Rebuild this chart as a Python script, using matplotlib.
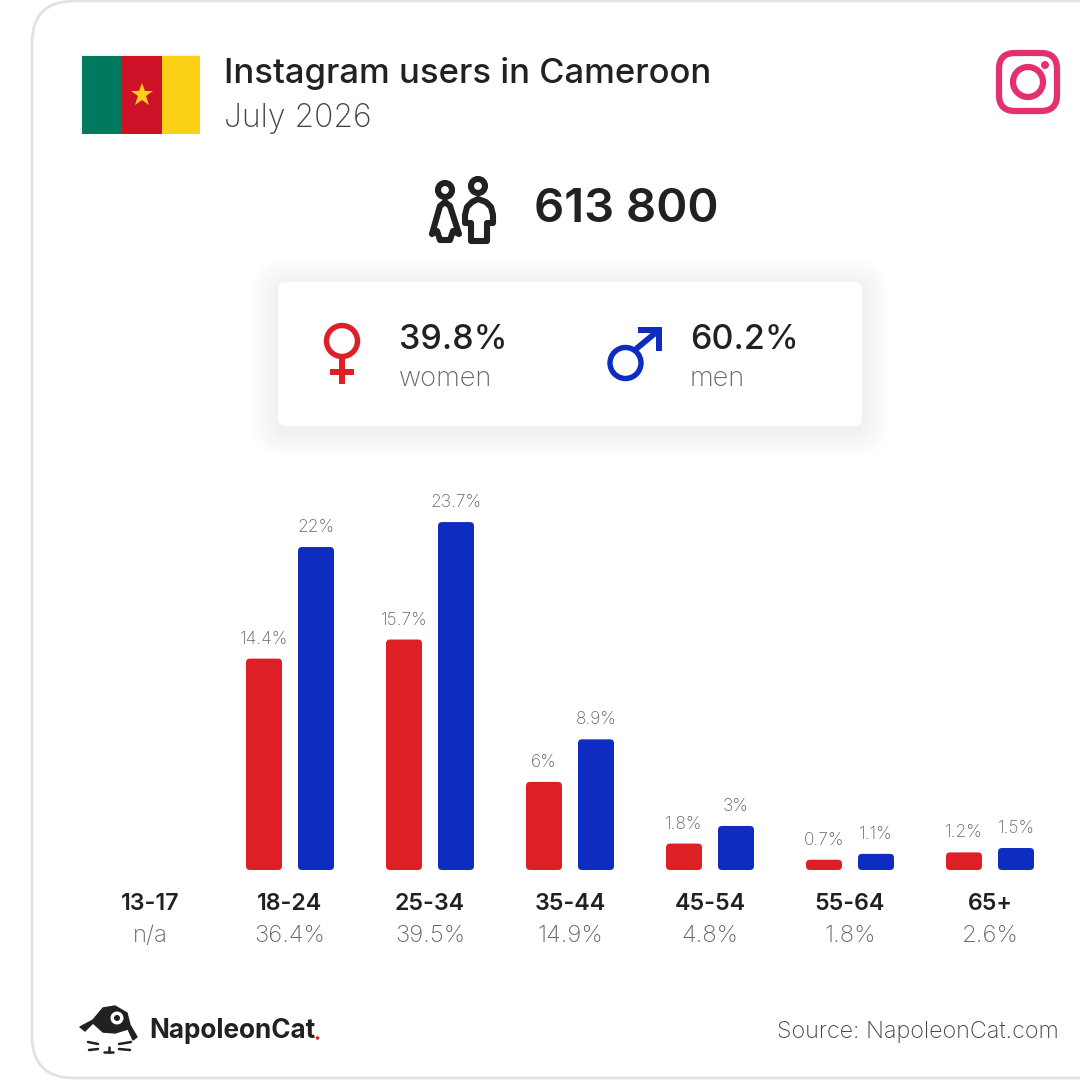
import matplotlib
matplotlib.use("Agg")
import matplotlib.pyplot as plt
from matplotlib.patches import FancyBboxPatch, Rectangle, Circle, Polygon

age_groups = ["13-17", "18-24", "25-34", "35-44", "45-54", "55-64", "65+"]
group_totals = ["n/a", "36.4%", "39.5%", "14.9%", "4.8%", "1.8%", "2.6%"]
women = [None, 14.4, 15.7, 6, 1.8, 0.7, 1.2]
men = [None, 22, 23.7, 8.9, 3, 1.1, 1.5]
women_labels = ["", "14.4%", "15.7%", "6%", "1.8%", "0.7%", "1.2%"]
men_labels = ["", "22%", "23.7%", "8.9%", "3%", "1.1%", "1.5%"]

RED = "#df1f26"
BLUE = "#0f2cc0"
DARK = "#212121"
GREY = "#666666"
FONT = "Inter"

plt.rcParams["font.family"] = [FONT, "DejaVu Sans"]

fig = plt.figure(figsize=(10.8, 10.8), dpi=100, facecolor="white")

# background layer in pixel coordinates, y going down
bg = fig.add_axes([0, 0, 1, 1])
bg.set_xlim(0, 1080)
bg.set_ylim(1080, 0)
bg.axis("off")

# soft shadow round the card
for grow in range(2, 32, 2):
    bg.add_patch(FancyBboxPatch((32 - grow, 1 - grow), 1200, 1077 + 2 * grow,
                                boxstyle=f"round,pad=0,rounding_size={42 + grow}",
                                fc="black", alpha=0.0012, lw=0))

# card
bg.add_patch(FancyBboxPatch((32, 1), 1200, 1077, boxstyle="round,pad=0,rounding_size=42",
                            fc="white", ec="#e2e2e2", lw=2))

# flag
bg.add_patch(Rectangle((80, 54), 120, 80, fc="#f5f5f5", lw=0))
bg.add_patch(Rectangle((82, 56), 40, 78, fc="#007a5e", lw=0))
bg.add_patch(Rectangle((122, 56), 40, 78, fc="#ce1126", lw=0))
bg.add_patch(Rectangle((162, 56), 38, 78, fc="#fcd116", lw=0))
bg.plot([142], [95], marker="*", ms=17, color="#fcd116", mew=0)

bg.text(224, 74, "Instagram users in Cameroon", fontsize=24.9, fontweight="medium", color=DARK, va="center")
bg.text(224, 118, "July 2026", fontsize=23, fontweight="light", color="#444444", va="center")

# instagram icon
bg.add_patch(FancyBboxPatch((999, 53), 58, 58, boxstyle="round,pad=0,rounding_size=16",
                            fc="none", ec="#e4306f", lw=4.5))
bg.add_patch(Circle((1028, 82), 15, fc="none", ec="#e4306f", lw=4.5))
bg.add_patch(Circle((1045, 65), 4, fc="#e4306f", lw=0))

# people icon
bg.add_patch(Circle((445, 190), 7, fc="none", ec=DARK, lw=4.4))
bg.add_patch(Circle((478, 186), 7, fc="none", ec=DARK, lw=4.4))
bg.add_patch(Polygon([(445, 202), (450, 206), (459, 234), (453, 231), (450, 240), (440, 240),
                      (437, 231), (432, 234), (440, 206)],
                     closed=True, fc="white", ec=DARK, lw=4.4, joinstyle="round"))
bg.add_patch(Polygon([(478, 199), (486, 202), (491, 207), (493, 215), (493, 223), (487, 223), (487, 241),
                      (471, 241), (471, 223), (465, 223), (465, 215), (467, 207), (472, 202)],
                     closed=True, fc="white", ec=DARK, lw=4.4, joinstyle="round"))

bg.text(534, 210, "613 800", fontsize=34, fontweight="semibold", color=DARK, va="center")

# shadow and box for the gender split
for grow in range(2, 30, 2):
    bg.add_patch(FancyBboxPatch((278 - grow, 286 - grow), 584 + 2 * grow, 144 + 2 * grow,
                                boxstyle=f"round,pad=0,rounding_size={8 + grow}",
                                fc="black", alpha=0.002, lw=0))
bg.add_patch(FancyBboxPatch((278, 282), 584, 144, boxstyle="round,pad=0,rounding_size=8", fc="white", lw=0))

# female sign
bg.add_patch(Circle((342, 341), 15.5, fc="none", ec=RED, lw=3.9))
bg.add_patch(Rectangle((339, 358), 6, 26, fc=RED, lw=0))
bg.add_patch(Rectangle((330, 369), 24, 6, fc=RED, lw=0))
bg.text(399, 340, "39.8%", fontsize=24.5, fontweight="medium", color=DARK, va="center")
bg.text(399, 379, "women", fontsize=19.6, fontweight="light", color=GREY, va="center")

# male sign
bg.add_patch(Circle((625.5, 363), 15.5, fc="none", ec=BLUE, lw=3.9))
bg.plot([636, 659], [349, 330], color=BLUE, lw=4.2, solid_capstyle="butt")
bg.add_patch(Polygon([(638, 327), (662, 327), (662, 351), (656, 351), (656, 333), (638, 333)], fc=BLUE, lw=0))
bg.text(690, 340, "60.2%", fontsize=24.5, fontweight="medium", color=DARK, va="center")
bg.text(690, 379, "men", fontsize=19.6, fontweight="light", color=GREY, va="center")

# cat logo
bg.add_patch(Polygon([(80, 1027), (93, 1020), (103, 1008), (115, 1006), (127, 1013), (130, 1025), (137, 1037),
                      (133, 1040), (128, 1029), (115, 1033), (103, 1032), (93, 1023), (85, 1031)],
                     fc=DARK, ec=DARK, lw=1, joinstyle="round"))
bg.add_patch(Circle((117, 1018), 6.5, fc="white", lw=0))
bg.add_patch(Circle((117, 1018), 3, fc=DARK, lw=0))
for xs, ys in [([88, 98], [1042, 1044]), ([89, 98], [1050, 1049]), ([119, 131], [1044, 1042]), ([119, 130], [1049, 1050]),
               ([104, 113], [1052, 1052]), ([108.5, 108.5], [1047, 1052])]:
    bg.plot(xs, ys, color=DARK, lw=1.8, solid_capstyle="round")
bg.text(149, 1031, "NapoleonCat", fontsize=18.8, fontweight="bold", color=DARK, va="center")
bg.add_patch(Circle((317.5, 1038), 1.8, fc=RED, lw=0))

bg.text(1059, 1032, "Source: NapoleonCat.com", fontsize=16.8, fontweight="light", color="#444444", va="center", ha="right")

# chart layer: one x unit is one age group, y is percent
PX_X = 140
PX_Y = 14.68
BAR_W = 36 / PX_X
BAR_OFF = 26 / PX_X
RADIUS = 4 / PX_X

ax = fig.add_axes([0, (1080 - 870) / 1080, 1, 870 / 1080])
ax.patch.set_alpha(0)
ax.set_xlim(-150 / PX_X, (1080 - 150) / PX_X)
ax.set_ylim(0, 870 / PX_Y)
ax.axis("off")


def rounded_bar(x, value, color):
    ax.add_patch(FancyBboxPatch((x - BAR_W / 2, 0), BAR_W, value,
                                boxstyle=f"round,pad=0,rounding_size={RADIUS}",
                                mutation_aspect=PX_X / PX_Y, fc=color, lw=0))


for i in range(len(age_groups)):
    if women[i] is not None:
        rounded_bar(i - BAR_OFF, women[i], RED)
        rounded_bar(i + BAR_OFF, men[i], BLUE)
        ax.annotate(women_labels[i], (i - BAR_OFF, women[i]), xytext=(0, 11), textcoords="offset pixels",
                    ha="center", va="bottom", fontsize=12.5, fontweight="light", color=GREY)
        ax.annotate(men_labels[i], (i + BAR_OFF, men[i]), xytext=(0, 11), textcoords="offset pixels",
                    ha="center", va="bottom", fontsize=12.5, fontweight="light", color=GREY)
    bg.text(150 + PX_X * i, 904, age_groups[i], fontsize=16.7, fontweight="semibold", color=DARK, ha="center", va="center")
    bg.text(150 + PX_X * i, 936, group_totals[i], fontsize=17.2, fontweight="light", color=GREY, ha="center", va="center")

fig.savefig("out.png", dpi=100, facecolor=fig.get_facecolor())
